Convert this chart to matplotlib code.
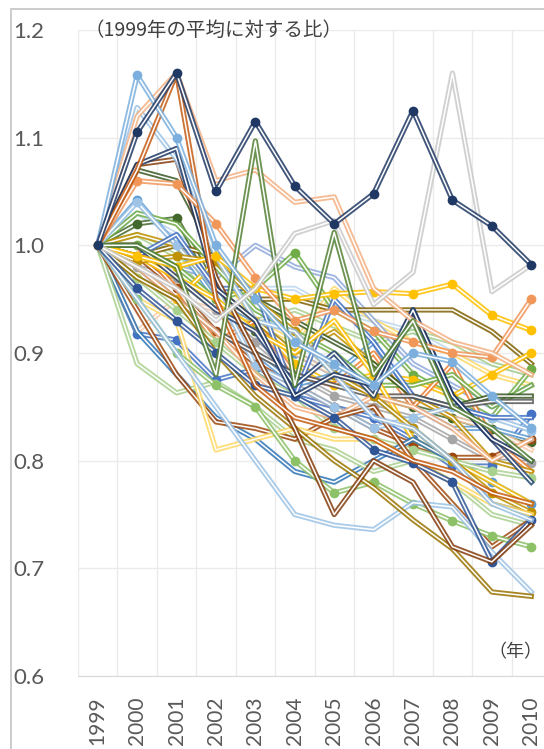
import matplotlib
matplotlib.use("Agg")
import matplotlib.pyplot as plt
from matplotlib import patheffects as pe
from matplotlib.patches import Rectangle

# categories
years = ['1999', '2000', '2001', '2002', '2003', '2004', '2005', '2006',
         '2007', '2008', '2009', '2010']
yticks = [0.6, 0.7, 0.8, 0.9, 1.0, 1.1, 1.2]

# series with markers (ratio to 1999 average)
m_navy = [1, 1.105, 1.16, 1.05, 1.115, 1.055, 1.02, 1.048, 1.125, 1.042, 1.018, 0.982]
m_lblue = [1, 1.158, 1.10, 1.0, 0.95, 0.91, 0.89, 0.87, 0.90, 0.892, 0.86, 0.83]
m_orange = [1, 1.06, 1.057, 1.02, 0.97, 0.93, 0.94, 0.92, 0.91, 0.90, 0.896, 0.95]
m_gold1 = [1, 0.99, 0.98, 0.99, 0.96, 0.95, 0.955, 0.957, 0.955, 0.964, 0.935, 0.921]
m_gold2 = [1, 0.97, 0.95, 0.985, 0.93, 0.89, 0.87, 0.88, 0.875, 0.86, 0.88, 0.90]
m_blue = [1, 0.918, 0.912, 0.875, 0.885, 0.86, 0.85, 0.84, 0.82, 0.795, 0.795, 0.843]
m_dgreen = [1, 1.02, 1.025, 0.96, 0.92, 0.90, 0.88, 0.86, 0.85, 0.84, 0.829, 0.817]
m_brown = [1, 0.99, 0.96, 0.92, 0.89, 0.87, 0.85, 0.83, 0.815, 0.803, 0.803, 0.82]
m_green = [1, 1.0, 0.98, 0.95, 0.96, 0.993, 0.94, 0.92, 0.88, 0.86, 0.84, 0.885]
m_lgreen = [1, 0.95, 0.90, 0.87, 0.85, 0.80, 0.77, 0.78, 0.76, 0.744, 0.73, 0.72]
m_nblue = [1, 0.96, 0.93, 0.90, 0.87, 0.86, 0.84, 0.81, 0.798, 0.78, 0.706, 0.745]
m_gray = [1, 0.98, 0.97, 0.94, 0.91, 0.88, 0.86, 0.85, 0.84, 0.82, 0.80, 0.798]
m_lgreen2 = [1, 0.97, 0.94, 0.91, 0.88, 0.86, 0.83, 0.82, 0.81, 0.80, 0.79, 0.784]
m_olive = [1, 0.985, 0.99, 0.985, 0.95, 0.92, 0.88, 0.86, 0.83, 0.80, 0.77, 0.752]
m_lblue2 = [1, 1.04, 1.0, 0.96, 0.888, 0.87, 0.85, 0.83, 0.84, 0.85, 0.84, 0.828]
m_blue2 = [1, 1.042, 1.0, 0.95, 0.93, 0.90, 0.88, 0.86, 0.83, 0.80, 0.78, 0.76]

# series without markers
n_gray = [1, 0.98, 0.96, 0.93, 0.96, 1.011, 1.023, 0.945, 0.975, 1.16, 0.957, 0.982]
n_lorange = [1, 1.12, 1.16, 1.06, 1.07, 1.04, 1.045, 0.96, 0.93, 0.91, 0.90, 0.88]
n_orbrown = [1, 1.07, 1.16, 0.95, 0.87, 0.84, 0.83, 0.82, 0.80, 0.79, 0.77, 0.76]
n_navy = [1, 1.075, 1.09, 0.96, 0.93, 0.86, 0.88, 0.87, 0.94, 0.86, 0.82, 0.80]
n_lblue = [1, 1.128, 1.08, 0.99, 0.93, 0.92, 0.88, 0.84, 0.83, 0.80, 0.76, 0.745]
n_brown = [1, 1.075, 1.08, 0.97, 0.90, 0.83, 0.75, 0.80, 0.78, 0.72, 0.706, 0.74]
n_zgreen = [1, 1.0, 0.98, 0.88, 1.097, 0.87, 1.012, 0.88, 0.93, 0.85, 0.83, 0.80]
n_olive = [1, 0.97, 0.95, 0.90, 0.86, 0.83, 0.80, 0.775, 0.745, 0.718, 0.678, 0.674]
n_lblue2 = [1, 0.95, 0.90, 0.85, 0.80, 0.75, 0.74, 0.736, 0.761, 0.757, 0.715, 0.678]
n_gold = [1, 0.95, 0.93, 0.81, 0.82, 0.83, 0.82, 0.82, 0.80, 0.78, 0.76, 0.75]
n_brown2 = [1, 0.94, 0.88, 0.836, 0.83, 0.82, 0.84, 0.85, 0.80, 0.76, 0.72, 0.745]
n_lgreen = [1, 0.89, 0.863, 0.873, 0.85, 0.82, 0.81, 0.79, 0.80, 0.78, 0.75, 0.74]
n_blue = [1, 0.92, 0.88, 0.84, 0.82, 0.79, 0.78, 0.80, 0.82, 0.80, 0.76, 0.75]
n_orange = [1, 0.98, 0.95, 0.92, 0.88, 0.85, 0.84, 0.86, 0.85, 0.83, 0.80, 0.82]
n_gold2 = [1, 0.99, 0.97, 0.95, 0.92, 0.90, 0.93, 0.88, 0.82, 0.80, 0.78, 0.76]
n_dgray = [1, 0.98, 0.95, 0.92, 0.90, 0.88, 0.87, 0.86, 0.86, 0.85, 0.855, 0.855]
n_navy2 = [1, 1.0, 0.97, 0.94, 0.92, 0.87, 0.90, 0.86, 0.94, 0.86, 0.82, 0.78]
n_green = [1, 1.03, 1.02, 0.98, 0.94, 0.92, 0.90, 0.87, 0.87, 0.88, 0.85, 0.87]
n_dgreen = [1, 1.07, 1.06, 0.99, 0.95, 0.93, 0.91, 0.89, 0.86, 0.85, 0.86, 0.86]
n_lgold = [1, 1.0, 0.97, 0.94, 0.93, 0.91, 0.96, 0.93, 0.91, 0.90, 0.88, 0.87]
n_peach = [1, 0.92, 0.95, 0.94, 0.92, 0.90, 0.88, 0.86, 0.86, 0.84, 0.83, 0.81]
n_blue2 = [1, 0.99, 1.01, 0.96, 0.96, 0.86, 0.95, 0.91, 0.86, 0.85, 0.84, 0.84]
n_gblue = [1, 1.0, 0.98, 0.97, 1.0, 0.98, 0.97, 0.93, 0.89, 0.87, 0.85, 0.87]
n_dolive = [1, 0.99, 1.0, 0.99, 0.95, 0.95, 0.94, 0.94, 0.94, 0.94, 0.92, 0.89]
n_pblue = [1, 1.03, 1.01, 0.98, 0.96, 0.96, 0.94, 0.93, 0.92, 0.90, 0.89, 0.88]
n_pgreen = [1, 1.01, 0.99, 0.95, 0.93, 0.94, 0.925, 0.91, 0.92, 0.91, 0.89, 0.88]
n_orange2 = [1, 1.0, 0.96, 0.91, 0.93, 0.88, 0.87, 0.90, 0.85, 0.89, 0.82, 0.79]
n_blue3 = [1, 0.97, 0.95, 0.92, 0.90, 0.87, 0.88, 0.91, 0.85, 0.83, 0.83, 0.82]
n_gold3 = [1, 1.01, 1.0, 0.96, 0.93, 0.90, 0.92, 0.89, 0.86, 0.84, 0.80, 0.79]

# drawing order: (values, colour, has markers)
series = [
    (m_gray, '#A5A5A5', True), (n_pblue, '#BDD7EE', False),
    (m_blue, '#4472C4', True), (n_pgreen, '#A9D18E', False),
    (m_dgreen, '#43682B', True), (n_lgold, '#FFD966', False),
    (m_brown, '#9E480E', True), (n_gblue, '#8FAADC', False),
    (m_blue2, '#5B9BD5', True), (n_dolive, '#7F6000', False),
    (m_green, '#70AD47', True), (n_peach, '#F8CBAD', False),
    (m_gold2, '#FFC000', True), (n_blue3, '#5B9BD5', False),
    (n_orange2, '#ED7D31', False), (n_gold3, '#BF9000', False),
    (n_green, '#70AD47', False), (n_dgreen, '#385723', False),
    (m_lblue2, '#9DC3E6', True), (n_blue2, '#4472C4', False),
    (n_dgray, '#595959', False), (n_gold2, '#FFC000', False),
    (m_lgreen2, '#A9D18E', True), (n_orange, '#F4B183', False),
    (n_blue, '#2E75B6', False), (n_lgreen, '#A9D18E', False),
    (m_olive, '#BF9000', True), (n_brown2, '#9E480E', False),
    (n_gold, '#FFD966', False), (m_lgreen, '#8CC168', True),
    (n_lblue2, '#9DC3E6', False), (n_olive, '#997300', False),
    (m_nblue, '#2F5597', True), (n_navy2, '#264478', False),
    (n_brown, '#843C0C', False), (n_lblue, '#9DC3E6', False),
    (m_gold1, '#FFC000', True), (n_navy, '#203864', False),
    (m_orange, '#F1975A', True), (n_orbrown, '#C55A11', False),
    (n_lorange, '#F4B183', False), (n_zgreen, '#548235', False),
    (m_lblue, '#7CAFDD', True), (n_gray, '#C9C9C9', False),
    (m_navy, '#203864', True),
]

plt.rcParams['font.family'] = ['Lato', 'Noto Sans CJK JP', 'DejaVu Sans']

fig = plt.figure(figsize=(5.44, 7.49), dpi=100)
fig.patch.set_facecolor('white')
# chart area frame
fig.patches.append(Rectangle((11 / 544, -0.1), 1.2, 1.1 - 9 / 749,
                             transform=fig.transFigure, fill=False,
                             edgecolor='#C8C8C8', lw=1.3))

ax = fig.add_axes([78 / 544, 1 - 676 / 749, 473 / 544, 646 / 749])
x = list(range(len(years)))

for vals, c, mk in series:
    ax.plot(x, vals, color='white', lw=1.1,
            path_effects=[pe.Stroke(linewidth=3.8, foreground=c, alpha=0.85), pe.Normal()])
    if mk:
        ax.plot(x, vals, 'o', ms=6, color=c, mec=c)

ax.set_xlim(-0.5, 11.5)
ax.set_ylim(0.6, 1.2)
ax.set_xticks(x)
ax.set_xticklabels(years, rotation=90, fontsize=15, color='#595959')
ax.set_yticks(yticks)
ax.set_yticklabels(['%.1f' % v for v in yticks], fontsize=16, color='#595959')
ax.set_xticks([i - 0.5 for i in range(13)], minor=True)
ax.tick_params(axis='x', which='both', length=0, pad=15)
ax.tick_params(axis='y', length=0, pad=24)
ax.grid(axis='y', color='#EBEBEB', lw=1)
ax.grid(axis='x', which='minor', color='#EBEBEB', lw=1)
ax.set_axisbelow(True)
for s in ['top', 'right', 'left']:
    ax.spines[s].set_visible(False)
ax.spines['bottom'].set_color('#D9D9D9')

fig.text(84 / 544, 1 - 30 / 749, '（1999年の平均に対する比）', fontsize=14,
         family=['Noto Sans CJK JP'], color='#404040', va='center', ha='left')
fig.text(488 / 544, 1 - 652 / 749, '（年）', fontsize=13,
         family=['Noto Sans CJK JP'], color='#404040', va='center', ha='left')

fig.savefig('out.png', dpi=100)
